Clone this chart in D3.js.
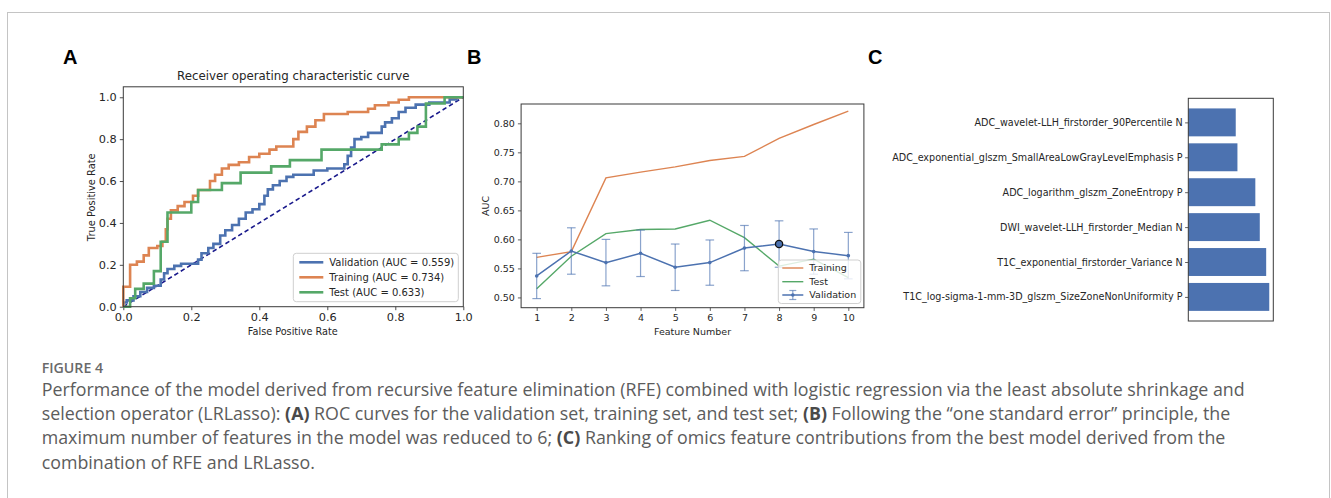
<!DOCTYPE html>
<html>
<head>
<meta charset="utf-8">
<script src="https://cdn.jsdelivr.net/npm/d3@7"></script>
<style>
  html, body { margin: 0; padding: 0; background: #fff; }
  svg { display: block; }
</style>
</head>
<body>
<svg id="chart" width="1331" height="498"></svg>
<script>
// ---------------- DATA ----------------
// Panel A: ROC curves (corner points [FPR, TPR])
const rocValidation = [[0,0],[0,0.02],[0.01,0.02],[0.01,0.03],[0.03,0.03],[0.03,0.05],[0.05,0.05],[0.05,0.07],[0.07,0.07],[0.07,0.09],[0.09,0.09],[0.09,0.1],[0.11,0.1],[0.11,0.13],[0.12,0.13],[0.12,0.16],[0.13,0.16],[0.13,0.18],[0.15,0.18],[0.15,0.195],[0.17,0.195],[0.17,0.205],[0.22,0.205],[0.22,0.225],[0.23,0.225],[0.23,0.255],[0.25,0.255],[0.25,0.28],[0.265,0.28],[0.265,0.3],[0.285,0.3],[0.285,0.34],[0.3,0.34],[0.3,0.365],[0.32,0.365],[0.32,0.39],[0.34,0.39],[0.34,0.42],[0.36,0.42],[0.36,0.45],[0.38,0.45],[0.38,0.465],[0.4,0.465],[0.4,0.49],[0.415,0.49],[0.415,0.53],[0.425,0.53],[0.425,0.56],[0.44,0.56],[0.44,0.58],[0.46,0.58],[0.46,0.6],[0.48,0.6],[0.48,0.62],[0.5,0.62],[0.5,0.63],[0.56,0.63],[0.56,0.65],[0.6,0.65],[0.6,0.66],[0.65,0.66],[0.65,0.68],[0.66,0.68],[0.66,0.72],[0.67,0.72],[0.67,0.76],[0.68,0.76],[0.68,0.8],[0.7,0.8],[0.7,0.81],[0.72,0.81],[0.72,0.83],[0.76,0.83],[0.76,0.86],[0.77,0.86],[0.77,0.88],[0.79,0.88],[0.79,0.9],[0.81,0.9],[0.81,0.93],[0.83,0.93],[0.83,0.95],[0.86,0.95],[0.86,0.965],[0.9,0.965],[0.9,0.975],[0.96,0.975],[0.96,0.99],[0.98,0.99],[0.98,1],[1,1]];
const rocTraining = [[0,0],[0,0.095],[0.02,0.095],[0.02,0.2],[0.04,0.2],[0.04,0.215],[0.06,0.215],[0.06,0.245],[0.075,0.245],[0.075,0.28],[0.1,0.28],[0.1,0.29],[0.115,0.29],[0.115,0.31],[0.125,0.31],[0.125,0.37],[0.13,0.37],[0.13,0.42],[0.14,0.42],[0.14,0.46],[0.16,0.46],[0.16,0.48],[0.18,0.48],[0.18,0.5],[0.205,0.5],[0.205,0.53],[0.22,0.53],[0.22,0.557],[0.255,0.557],[0.255,0.6],[0.27,0.6],[0.27,0.63],[0.29,0.63],[0.29,0.66],[0.31,0.66],[0.31,0.677],[0.34,0.677],[0.34,0.69],[0.37,0.69],[0.37,0.715],[0.4,0.715],[0.4,0.73],[0.43,0.73],[0.43,0.75],[0.45,0.75],[0.45,0.765],[0.5,0.765],[0.5,0.8],[0.515,0.8],[0.515,0.835],[0.54,0.835],[0.54,0.86],[0.565,0.86],[0.565,0.89],[0.59,0.89],[0.59,0.92],[0.66,0.92],[0.66,0.93],[0.72,0.93],[0.72,0.945],[0.74,0.945],[0.74,0.962],[0.78,0.962],[0.78,0.975],[0.81,0.975],[0.81,0.988],[0.84,0.988],[0.84,1],[1,1]];
const rocTest = [[0,0],[0.02,0],[0.02,0.04],[0.035,0.04],[0.035,0.085],[0.06,0.085],[0.06,0.11],[0.09,0.11],[0.09,0.17],[0.11,0.17],[0.11,0.31],[0.13,0.31],[0.13,0.45],[0.2,0.45],[0.2,0.5],[0.22,0.5],[0.22,0.557],[0.29,0.557],[0.29,0.59],[0.345,0.59],[0.345,0.64],[0.435,0.64],[0.435,0.67],[0.49,0.67],[0.49,0.7],[0.583,0.7],[0.583,0.75],[0.76,0.75],[0.76,0.775],[0.81,0.775],[0.81,0.8],[0.84,0.8],[0.84,0.83],[0.865,0.83],[0.865,0.86],[0.89,0.86],[0.89,0.97],[0.945,0.97],[0.945,1],[1,1]];
const rocLabels = ["Validation (AUC = 0.559)", "Training (AUC = 0.734)", "Test (AUC = 0.633)"];
const rocTicks = [0.0, 0.2, 0.4, 0.6, 0.8, 1.0];

// Panel B: AUC vs feature number
const featureNumbers = [1, 2, 3, 4, 5, 6, 7, 8, 9, 10];
const trainAUC = [0.569, 0.579, 0.706, 0.716, 0.725, 0.736, 0.743, 0.774, 0.798, 0.821];
const testAUC  = [0.515, 0.571, 0.610, 0.617, 0.618, 0.633, 0.603, 0.554, 0.566, 0.534];
const valAUC   = [0.537, 0.580, 0.560, 0.576, 0.552, 0.560, 0.585, 0.592, 0.579, 0.572];
const valErr   = [0.039, 0.040, 0.040, 0.040, 0.040, 0.039, 0.039, 0.040, 0.039, 0.040];
const bestFeature = 8;
const aucTicks = [0.50, 0.55, 0.60, 0.65, 0.70, 0.75, 0.80];
const lineLabels = ["Training", "Test", "Validation"];

// Panel C: feature contributions (top to bottom)
const featureNames = [
  "ADC_wavelet-LLH_firstorder_90Percentile N",
  "ADC_exponential_glszm_SmallAreaLowGrayLevelEmphasis P",
  "ADC_logarithm_glszm_ZoneEntropy P",
  "DWI_wavelet-LLH_firstorder_Median N",
  "T1C_exponential_firstorder_Variance N",
  "T1C_log-sigma-1-mm-3D_glszm_SizeZoneNonUniformity P"
];
const featureWeights = [0.586, 0.607, 0.828, 0.883, 0.962, 1.000];

// Caption
const figureLabel = "FIGURE 4";
const captionLines = [
  [["Performance of the model derived from recursive feature elimination (RFE) combined with logistic regression via the least absolute shrinkage and", false]],
  [["selection operator (LRLasso): ", false], ["(A)", true], [" ROC curves for the validation set, training set, and test set; ", false], ["(B)", true], [" Following the \u201cone standard error\u201d principle, the", false]],
  [["maximum number of features in the model was reduced to 6; ", false], ["(C)", true], [" Ranking of omics feature contributions from the best model derived from the", false]],
  [["combination of RFE and LRLasso.", false]]
];

// ---------------- STYLE ----------------
const C_BLUE = "#4C72B0", C_ORANGE = "#DD8452", C_GREEN = "#55A868";
const FONT = "DejaVu Sans, sans-serif";
const TXT = "#262626";
const SPINE = "#3a3a3a";

const svg = d3.select("#chart");
svg.append("rect").attr("width", 1331).attr("height", 498).attr("fill", "#fff");
// outer figure border
svg.append("rect").attr("x", 7.5).attr("y", 12.5).attr("width", 1322).attr("height", 520)
  .attr("fill", "none").attr("stroke", "#c4c4c4").attr("stroke-width", 1);

// fit a text element's font size so that it spans a target width
function fitWidth(sel, target) {
  const fs = parseFloat(sel.attr("font-size"));
  const w = sel.node().getComputedTextLength();
  return fs * target / w;
}

// panel letters
[["A", 63], ["B", 467], ["C", 868]].forEach(([t, x]) => {
  svg.append("text").attr("x", x).attr("y", 64).text(t)
    .attr("font-family", "Liberation Sans, Arial, sans-serif").attr("font-weight", 700)
    .attr("font-size", 20).attr("fill", "#000");
});

// ---------------- PANEL A ----------------
{
  const L = 123.3, R = 463.3, T = 86.8, B = 306.7;
  const x = d3.scaleLinear().domain([0, 1]).range([L, R]);
  const y = d3.scaleLinear().domain([0, 1.05]).range([B, T]);
  const g = svg.append("g");
  const fs = 11.3;

  const xAxis = g.append("g").attr("transform", `translate(0,${B})`)
    .call(d3.axisBottom(x).tickValues(rocTicks).tickFormat(d3.format(".1f")).tickSize(3.5).tickPadding(3));
  const yAxis = g.append("g").attr("transform", `translate(${L},0)`)
    .call(d3.axisLeft(y).tickValues(rocTicks).tickFormat(d3.format(".1f")).tickSize(3.5).tickPadding(3));
  [xAxis, yAxis].forEach(a => {
    a.select(".domain").remove();
    a.selectAll("line").attr("stroke", SPINE).attr("stroke-width", 0.9);
    a.selectAll("text").attr("font-family", FONT).attr("font-size", fs).attr("fill", TXT);
  });

  // diagonal
  g.append("line").attr("x1", x(0)).attr("y1", y(0)).attr("x2", x(1)).attr("y2", y(1))
    .attr("stroke", "#1a1a8c").attr("stroke-width", 1.6).attr("stroke-dasharray", "4.5,3");

  const line = d3.line().x(d => x(d[0])).y(d => y(d[1]));
  const series = [[rocValidation, C_BLUE], [rocTraining, C_ORANGE], [rocTest, C_GREEN]];
  series.forEach(([data, c]) => {
    g.append("path").datum(data).attr("d", line).attr("fill", "none")
      .attr("stroke", c).attr("stroke-width", 2.6).attr("stroke-linejoin", "miter");
  });

  g.append("rect").attr("x", L).attr("y", T).attr("width", R - L).attr("height", B - T)
    .attr("fill", "none").attr("stroke", SPINE).attr("stroke-width", 1);

  const title = g.append("text").attr("x", (L + R) / 2).attr("y", 80).attr("text-anchor", "middle")
    .attr("font-family", FONT).attr("font-size", 12).attr("fill", TXT)
    .text("Receiver operating characteristic curve");
  title.attr("font-size", fitWidth(title, 233));
  const xl = g.append("text").attr("x", (L + R) / 2 - 0.5).attr("y", 335).attr("text-anchor", "middle")
    .attr("font-family", FONT).attr("font-size", 10).attr("fill", TXT).text("False Positive Rate");
  xl.attr("font-size", fitWidth(xl, 90));
  const yl = g.append("text").attr("transform", `translate(95,${(T + B) / 2 + 0.5}) rotate(-90)`).attr("text-anchor", "middle")
    .attr("font-family", FONT).attr("font-size", 10).attr("fill", TXT).text("True Positive Rate");
  yl.attr("font-size", fitWidth(yl, 88));

  // legend
  const lg = g.append("g");
  lg.append("rect").attr("x", 293.3).attr("y", 253.3).attr("width", 165).attr("height", 48.4).attr("rx", 3)
    .attr("fill", "#fff").attr("fill-opacity", 0.85).attr("stroke", "#cfcfcf").attr("stroke-width", 1);
  const ly = [262.3, 277.3, 292.3];
  const lts = [];
  series.forEach(([_, c], i) => {
    lg.append("line").attr("x1", 299.3).attr("x2", 323.3).attr("y1", ly[i]).attr("y2", ly[i])
      .attr("stroke", c).attr("stroke-width", 2.6);
    lts.push(lg.append("text").attr("x", 329.3).attr("y", ly[i]).attr("dy", "0.35em")
      .attr("font-family", FONT).attr("font-size", 10).attr("fill", TXT).text(rocLabels[i]));
  });
  const lfs = fitWidth(lts[0], 125);
  lts.forEach(t => t.attr("font-size", lfs));
}

// ---------------- PANEL B ----------------
{
  const L = 521.1, R = 863.9, T = 104, B = 307.7;
  const x = d3.scaleLinear().domain([0.55, 10.45]).range([L, R]);
  const y = d3.scaleLinear().domain([0.4823, 0.8333]).range([B, T]);
  const g = svg.append("g");
  const fs = 9.5;

  const xAxis = g.append("g").attr("transform", `translate(0,${B})`)
    .call(d3.axisBottom(x).tickValues(featureNumbers).tickFormat(d3.format("d")).tickSize(3.2).tickPadding(3));
  const yAxis = g.append("g").attr("transform", `translate(${L},0)`)
    .call(d3.axisLeft(y).tickValues(aucTicks).tickFormat(d3.format(".2f")).tickSize(3.2).tickPadding(3));
  [xAxis, yAxis].forEach(a => {
    a.select(".domain").remove();
    a.selectAll("line").attr("stroke", SPINE).attr("stroke-width", 0.8);
    a.selectAll("text").attr("font-family", FONT).attr("font-size", fs).attr("fill", TXT);
  });

  const idx = featureNumbers.map((_, i) => i);
  const mk = arr => d3.line().x(i => x(featureNumbers[i])).y(i => y(arr[i]));
  g.append("path").datum(idx).attr("d", mk(trainAUC)).attr("fill", "none").attr("stroke", C_ORANGE).attr("stroke-width", 1.4);
  g.append("path").datum(idx).attr("d", mk(testAUC)).attr("fill", "none").attr("stroke", C_GREEN).attr("stroke-width", 1.4);

  // error bars
  const eb = g.append("g").attr("stroke", C_BLUE).attr("stroke-opacity", 0.65).attr("stroke-width", 1.2);
  idx.forEach(i => {
    const cx = x(featureNumbers[i]);
    const y0 = y(valAUC[i] - valErr[i]), y1 = y(valAUC[i] + valErr[i]);
    eb.append("line").attr("x1", cx).attr("x2", cx).attr("y1", y0).attr("y2", y1);
    eb.append("line").attr("x1", cx - 4.3).attr("x2", cx + 4.3).attr("y1", y0).attr("y2", y0);
    eb.append("line").attr("x1", cx - 4.3).attr("x2", cx + 4.3).attr("y1", y1).attr("y2", y1);
  });
  g.append("path").datum(idx).attr("d", mk(valAUC)).attr("fill", "none").attr("stroke", C_BLUE).attr("stroke-width", 1.5);
  g.selectAll(".vdot").data(idx).enter().append("circle")
    .attr("cx", i => x(featureNumbers[i])).attr("cy", i => y(valAUC[i])).attr("r", 1.8).attr("fill", C_BLUE);
  const bi = featureNumbers.indexOf(bestFeature);
  g.append("circle").attr("cx", x(bestFeature)).attr("cy", y(valAUC[bi])).attr("r", 3.6)
    .attr("fill", C_BLUE).attr("stroke", "#111").attr("stroke-width", 1.3);

  g.append("rect").attr("x", L).attr("y", T).attr("width", R - L).attr("height", B - T)
    .attr("fill", "none").attr("stroke", SPINE).attr("stroke-width", 1);

  g.append("text").attr("x", (L + R) / 2).attr("y", 335).attr("text-anchor", "middle")
    .attr("font-family", FONT).attr("font-size", fs).attr("fill", TXT).text("Feature Number");
  g.append("text").attr("transform", `translate(488.5,${(T + B) / 2}) rotate(-90)`).attr("text-anchor", "middle")
    .attr("font-family", FONT).attr("font-size", fs).attr("fill", TXT).text("AUC");

  // legend
  const lg = g.append("g");
  lg.append("rect").attr("x", 778.3).attr("y", 260).attr("width", 82.5).attr("height", 43.5).attr("rx", 3)
    .attr("fill", "#fff").attr("fill-opacity", 0.8).attr("stroke", "#d0d0d0").attr("stroke-width", 1);
  const ly = [268, 281.7, 295];
  [[C_ORANGE], [C_GREEN]].forEach(([c], i) => {
    lg.append("line").attr("x1", 782.3).attr("x2", 803.3).attr("y1", ly[i]).attr("y2", ly[i])
      .attr("stroke", c).attr("stroke-width", 1.4);
  });
  const hx = (782.3 + 803.3) / 2;
  lg.append("line").attr("x1", 782.3).attr("x2", 803.3).attr("y1", ly[2]).attr("y2", ly[2])
    .attr("stroke", C_BLUE).attr("stroke-width", 1.5);
  const le = lg.append("g").attr("stroke", C_BLUE).attr("stroke-opacity", 0.65).attr("stroke-width", 1.2);
  le.append("line").attr("x1", hx).attr("x2", hx).attr("y1", ly[2] - 4.5).attr("y2", ly[2] + 4.5);
  le.append("line").attr("x1", hx - 3.5).attr("x2", hx + 3.5).attr("y1", ly[2] - 4.5).attr("y2", ly[2] - 4.5);
  le.append("line").attr("x1", hx - 3.5).attr("x2", hx + 3.5).attr("y1", ly[2] + 4.5).attr("y2", ly[2] + 4.5);
  lg.append("circle").attr("cx", hx).attr("cy", ly[2]).attr("r", 1.8).attr("fill", C_BLUE);
  lineLabels.forEach((t, i) => {
    lg.append("text").attr("x", 809.3).attr("y", ly[i]).attr("dy", "0.35em")
      .attr("font-family", FONT).attr("font-size", fs).attr("fill", TXT).text(t);
  });
}

// ---------------- PANEL C ----------------
{
  const L = 1188.3, R = 1273.3, T = 98.3, B = 321;
  const n = featureNames.length;
  const x = d3.scaleLinear().domain([0, d3.max(featureWeights) * 1.05]).range([L, R]);
  // position index: bottom bar = 0 (matplotlib barh), top = n-1
  const y = d3.scaleLinear().domain([-0.69, n - 1 + 0.69]).range([B, T]);
  const g = svg.append("g");
  const fs = 9.6;

  featureNames.forEach((name, i) => {
    const pos = n - 1 - i;
    g.append("rect").attr("x", x(0)).attr("y", y(pos + 0.4))
      .attr("width", x(featureWeights[i]) - x(0)).attr("height", y(pos - 0.4) - y(pos + 0.4))
      .attr("fill", C_BLUE);
  });
  const yAxis = g.append("g").attr("transform", `translate(${L},0)`)
    .call(d3.axisLeft(y).tickValues(d3.range(n)).tickFormat(p => featureNames[n - 1 - p]).tickSize(3.2).tickPadding(2.5));
  yAxis.select(".domain").remove();
  yAxis.selectAll("line").attr("stroke", SPINE).attr("stroke-width", 0.8);
  yAxis.selectAll("text").attr("font-family", FONT).attr("font-size", fs).attr("fill", TXT);

  g.append("rect").attr("x", L).attr("y", T).attr("width", R - L).attr("height", B - T)
    .attr("fill", "none").attr("stroke", SPINE).attr("stroke-width", 1);
}

// ---------------- CAPTION ----------------
{
  const CX = 41.7;
  const fl = svg.append("text").attr("x", CX).attr("y", 373).text(figureLabel)
    .attr("font-family", "Open Sans, sans-serif").attr("font-weight", 600).attr("font-size", 13.5)
    .attr("fill", "#6a6a6a");
  fl.attr("font-size", fitWidth(fl, 61.5));
  const lineY = [395.7, 419.9, 444.2, 468.5];
  const texts = captionLines.map((parts, li) => {
    const t = svg.append("text").attr("x", CX).attr("y", lineY[li])
      .attr("font-family", "Open Sans, sans-serif").attr("font-size", 16).attr("fill", "#5c5c5c");
    parts.forEach(([s, b]) => {
      const ts = t.append("tspan").text(s);
      if (b) ts.attr("font-weight", 700).attr("fill", "#4a4a4a");
    });
    return t;
  });
  const fsz = fitWidth(texts[0], 1204);
  texts.forEach(t => t.attr("font-size", fsz));
}
</script>
</body>
</html>
